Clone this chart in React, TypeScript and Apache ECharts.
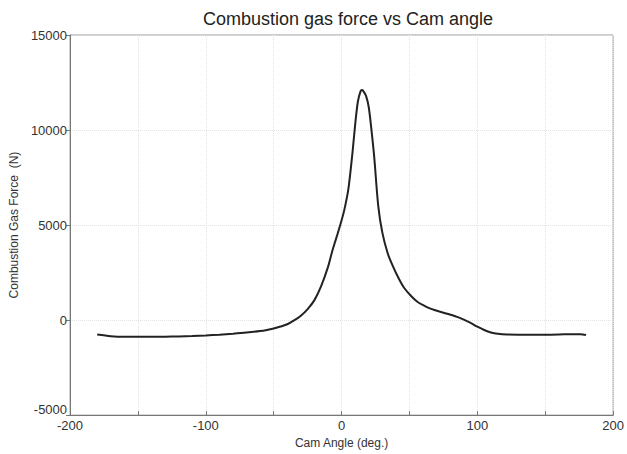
import React, { useEffect, useRef } from "react";
import * as echarts from "echarts";

const titleText = "Combustion gas force vs Cam angle";
const xName = "Cam Angle (deg.)";
const yName = "Combustion Gas Force  (N)";

const angles = [
  -180, -170, -160, -150, -140, -130, -120, -110, -100, -90, -80, -70, -60, -55, -50, -45, -40, -35,
  -30, -25, -20, -15, -10, -7, -4, -1, 2, 5, 8, 10, 12, 14, 15, 16, 18, 20, 22, 24, 27, 30, 34, 38,
  42, 46, 51, 56, 61, 66, 72, 78, 85, 90, 95, 100, 105, 110, 115, 122, 130, 140, 150, 160, 170, 176, 180,
];
const forces = [
  -760, -850, -880, -880, -880, -875, -860, -840, -810, -770, -720, -660, -580, -520, -440, -340, -220, -20,
  230, 580, 1050, 1800, 2800, 3600, 4300, 5000, 5800, 6900, 8800, 10300, 11500, 12050, 12100, 12050, 11800, 11200, 10000, 8600, 6000, 4600, 3500, 2800,
  2200, 1700, 1280, 950, 750, 590, 450, 330, 170, 20, -150, -350, -520, -650, -720, -760, -770, -770, -770, -760, -740, -740, -790,
];

export default function App() {
  const ref = useRef<HTMLDivElement>(null);
  useEffect(() => {
    if (!ref.current) return;
    const chart = echarts.init(ref.current, null, { renderer: "svg" });
    const data = angles.map((a, i) => [a, forces[i]]);
    chart.setOption({
      animation: false,
      backgroundColor: "#ffffff",
      textStyle: { fontFamily: "Liberation Sans, Arial, sans-serif" },
      title: {
        text: titleText,
        left: 343,
        textAlign: "center",
        top: 5,
        textStyle: { fontSize: 18, fontWeight: "normal", color: "#222", fontFamily: "Liberation Sans, Arial, sans-serif" },
      },
      grid: {
        left: 70,
        right: 10,
        top: 35,
        bottom: 34,
        show: true,
        borderColor: "#999",
        borderWidth: 1,
        backgroundColor: "transparent",
      },
      xAxis: {
        type: "value",
        min: -200,
        max: 200,
        interval: 50,
        name: xName,
        nameLocation: "middle",
        nameGap: 21,
        nameTextStyle: { fontSize: 12, color: "#333" },
        axisLine: { onZero: false, lineStyle: { color: "#777" } },
        axisTick: { show: true, inside: true, length: 4, lineStyle: { color: "#777" } },
        axisLabel: {
          fontSize: 13,
          color: "#333",
          margin: 4,
          formatter: (v: number) => (v % 100 === 0 ? String(v) : ""),
        },
        splitLine: { show: true, lineStyle: { color: "#e2e2e2", type: "dotted" } },
      },
      yAxis: {
        type: "value",
        min: -5000,
        max: 15000,
        interval: 5000,
        name: yName,
        nameLocation: "middle",
        nameGap: 50,
        nameTextStyle: { fontSize: 12, color: "#333" },
        axisLine: { show: true, onZero: false, lineStyle: { color: "#777" } },
        axisTick: { show: true, length: 4, lineStyle: { color: "#777" } },
        axisLabel: {
          fontSize: 13,
          color: "#333",
          margin: 3,
          formatter: (v: number) => (v === -5000 ? "{low|" + v + "}" : String(v)),
          rich: { low: { fontSize: 13, color: "#333", padding: [0, 0, 12, 0] } },
        },
        splitLine: { show: true, lineStyle: { color: "#e2e2e2", type: "dotted" } },
      },
      series: [
        {
          type: "line",
          data,
          smooth: 0.3,
          showSymbol: false,
          lineStyle: { color: "#222", width: 2 },
        },
      ],
    });
    return () => chart.dispose();
  }, []);
  return <div ref={ref} style={{ width: 627, height: 454, position: "absolute", left: 0, top: 0 }} />;
}
